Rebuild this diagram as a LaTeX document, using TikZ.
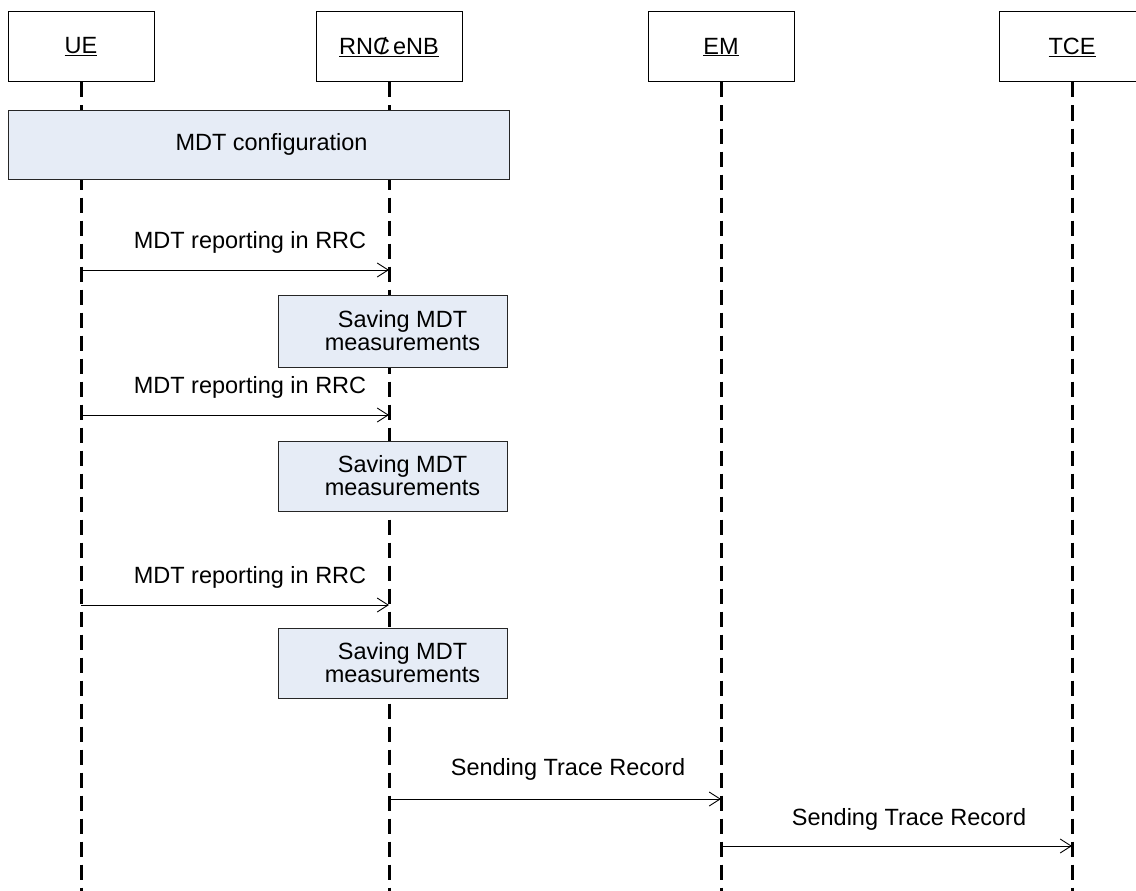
\documentclass[tikz,border=0pt]{standalone}
\usepackage{fontspec}
\setmainfont{Liberation Sans}
\usetikzlibrary{arrows.meta}
\definecolor{boxfill}{RGB}{230,236,246}
\begin{document}
\begin{tikzpicture}[x=1pt,y=-1pt,
  every node/.style={font=\fontsize{23.5}{23}\selectfont},
  actor/.style={draw=black,line width=1pt,fill=white,minimum width=146pt,minimum height=70pt,inner sep=0pt},
  lifeline/.style={line width=3pt,dash pattern=on 15pt off 8pt},
  procbox/.style={draw=black!85,line width=1pt,fill=boxfill,inner sep=0pt},
  msg/.style={line width=0.9pt,-{Straight Barb[length=11pt,width=14pt,line width=0.9pt]}},
  msglabel/.style={anchor=base,inner sep=0pt}]
\useasboundingbox (0,0) rectangle (1136,891);
\clip (0,0) rectangle (1136,891);
% actors
\node[actor] (ue) at (81,47) {\underline{UE}};
\node[actor] (rnc) at (389,47) {\underline{RNC\kern-0.42em/ eNB}};
\node[actor] (em) at (721,47) {\underline{EM}};
\node[actor] (tce) at (1072,47) {\underline{TCE}};
% lifeline ends
\coordinate (ueE) at (81,895);
\coordinate (rncE) at (389,895);
\coordinate (emE) at (721,895);
\coordinate (tceE) at (1072,895);
\draw[lifeline] (ue.south) -- (ueE);
\draw[lifeline] (rnc.south) -- (rncE);
\draw[lifeline] (em.south) -- (emE);
\draw[lifeline] (tce.south) -- (tceE);
% MDT configuration
\node[procbox,minimum width=501pt,minimum height=69pt,
  label={[xshift=13pt]center:MDT configuration}] (cfg) at (258.5,144.5) {};
% message points
\coordinate (a1s) at (81,270);  \coordinate (a1e) at (389,270);
\coordinate (a2s) at (81,415);  \coordinate (a2e) at (389,415);
\coordinate (a3s) at (81,605);  \coordinate (a3e) at (389,605);
\coordinate (a4s) at (389,799); \coordinate (a4e) at (721,799);
\coordinate (a5s) at (721,846); \coordinate (a5e) at (1072,846);
% reports
\draw[msg] (a1s) -- (a1e);
\node[msglabel] (l1) at (250,248) {MDT reporting in RRC};
\node[procbox,minimum width=229pt,minimum height=72pt,
  label={[xshift=10pt,align=center]center:Saving MDT\\measurements}] (s1) at (392.5,331) {};
\draw[msg] (a2s) -- (a2e);
\node[msglabel] (l2) at (250,393) {MDT reporting in RRC};
\node[procbox,minimum width=229pt,minimum height=70pt,
  label={[xshift=10pt,align=center]center:Saving MDT\\measurements}] (s2) at (392.5,476) {};
\draw[msg] (a3s) -- (a3e);
\node[msglabel] (l3) at (250,583) {MDT reporting in RRC};
\node[procbox,minimum width=229pt,minimum height=70pt,
  label={[xshift=10pt,align=center]center:Saving MDT\\measurements}] (s3) at (392.5,663) {};
% trace records
\draw[msg] (a4s) -- (a4e);
\node[msglabel] (l4) at (568,775) {Sending Trace Record};
\draw[msg] (a5s) -- (a5e);
\node[msglabel] (l5) at (909,825) {Sending Trace Record};
\end{tikzpicture}
\end{document}
